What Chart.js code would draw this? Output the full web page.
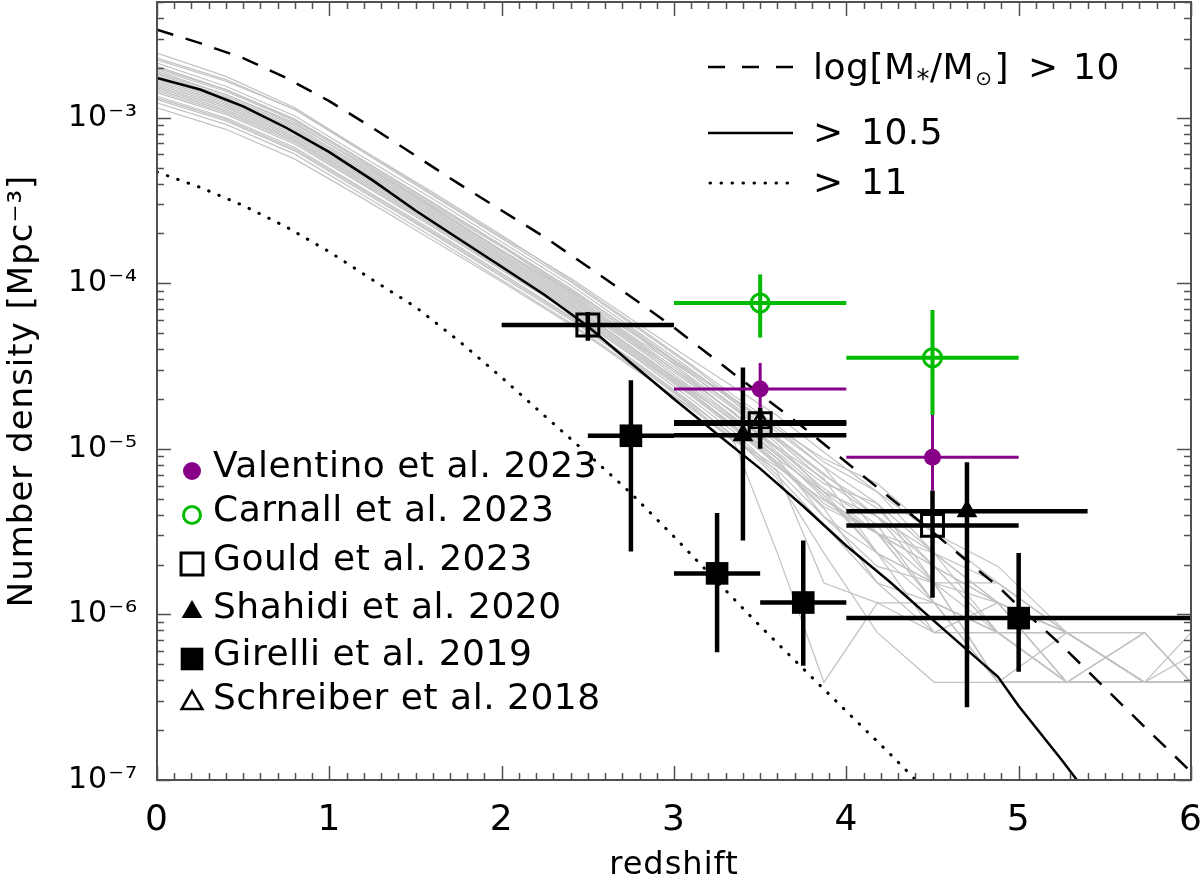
<!DOCTYPE html>
<html>
<head>
<meta charset="utf-8">
<script src="https://cdn.jsdelivr.net/npm/chart.js@4.4.0/dist/chart.umd.min.js"></script>
<style>
  html, body { margin: 0; padding: 0; background: #fff; }
  canvas { display: block; }
</style>
</head>
<body>
<canvas id="nd" width="1200" height="881"></canvas>
<script>
// mass-limited number density vs redshift
const curveZ = [0, 0.25, 0.5, 0.75, 1.0, 1.25, 1.5, 1.75, 2.0, 2.25, 2.5, 2.75, 3.0,
  3.25, 3.5, 3.75, 4.0, 4.25, 4.5, 4.75, 4.88, 5.0, 5.25, 5.5, 5.75, 6.0];
const nAbove10 = [3.4e-3, 2.82e-3, 2.29e-3, 1.74e-3, 1.26e-3, 8.7e-4, 5.9e-4, 4.0e-4, 2.75e-4,
  1.9e-4, 1.26e-4, 8.3e-5, 5.4e-5, 3.4e-5, 2.14e-5, 1.35e-5, 8.3e-6, 5.1e-6, 3.16e-6,
  1.9e-6, 1.48e-6, 1.12e-6, 6.5e-7, 3.6e-7, 2.0e-7, 1.12e-7];
const nAbove105 = [1.74e-3, 1.48e-3, 1.17e-3, 8.7e-4, 6.2e-4, 4.2e-4, 2.75e-4, 1.86e-4, 1.26e-4,
  8.5e-5, 5.5e-5, 3.3e-5, 2.0e-5, 1.23e-5, 7.6e-6, 4.5e-6, 2.6e-6, 1.58e-6, 9.3e-7,
  5.5e-7, 4.2e-7, 2.8e-7, 1.32e-7, 6.0e-8, 2.75e-8, 1.26e-8];
const nAbove11 = [4.7e-4, 3.8e-4, 2.95e-4, 2.19e-4, 1.55e-4, 1.05e-4, 7.2e-5, 4.5e-5, 2.7e-5,
  1.58e-5, 9.3e-6, 5.4e-6, 2.95e-6, 1.58e-6, 8.5e-7, 4.7e-7, 2.6e-7, 1.45e-7, 7.9e-8,
  4.4e-8, 3.2e-8, 2.4e-8, 1.3e-8, 7e-9, 4e-9, 2e-9];

// individual realisations (log10 of number density)
const greyZ = [0, 0.4, 0.8, 1.2, 1.6, 2.0, 2.4, 2.8, 3.1, 3.35, 3.6, 3.87, 4.18, 4.51, 4.88, 5.28, 5.73, 6.0];
const greyLogN = [
  [-2.61,-2.75,-2.94,-3.20,-3.46,-3.72,-3.97,-4.25,-4.46,-4.63,-4.80,-5.02,-5.26,-5.51,-5.81,-6.11,-6.11,-6.41],
  [-2.64,-2.77,-2.95,-3.20,-3.45,-3.71,-3.98,-4.27,-4.49,-4.68,-4.86,-5.08,-5.26,-5.63,-5.81,-6.11,-6.41,-6.41],
  [-2.65,-2.78,-2.95,-3.21,-3.47,-3.73,-3.99,-4.28,-4.50,-4.70,-4.88,-5.11,-5.33,-5.63,-5.93,-6.11,-6.41,-6.41],
  [-2.67,-2.81,-2.99,-3.24,-3.49,-3.75,-4.01,-4.30,-4.52,-4.72,-4.93,-5.15,-5.41,-5.81,-5.93,-6.41,-6.41,-6.41],
  [-2.69,-2.83,-3.01,-3.26,-3.51,-3.77,-4.04,-4.31,-4.54,-4.71,-4.90,-5.11,-5.51,-5.63,-6.11,-6.11,-6.41,-6.41],
  [-2.70,-2.83,-3.01,-3.26,-3.52,-3.77,-4.03,-4.32,-4.55,-4.74,-4.94,-5.16,-5.36,-5.71,-5.93,-6.41,-6.41,-6.41],
  [-2.71,-2.84,-3.02,-3.27,-3.53,-3.78,-4.05,-4.33,-4.57,-4.76,-4.95,-5.19,-5.41,-5.71,-6.11,-6.41,-6.11,-6.41],
  [-2.72,-2.86,-3.04,-3.28,-3.54,-3.80,-4.06,-4.35,-4.55,-4.75,-4.97,-5.26,-5.51,-5.81,-5.81,-6.11,-6.41,-6.25],
  [-2.73,-2.86,-3.03,-3.29,-3.54,-3.80,-4.05,-4.33,-4.53,-4.70,-4.88,-5.06,-5.21,-5.51,-5.71,-6.11,-6.11,-6.41],
  [-2.74,-2.87,-3.05,-3.30,-3.55,-3.81,-4.07,-4.36,-4.58,-4.79,-4.99,-5.18,-5.63,-5.93,-6.41,-6.41,-6.41,-6.41],
  [-2.75,-2.88,-3.06,-3.31,-3.56,-3.82,-4.08,-4.37,-4.60,-4.78,-5.02,-5.26,-5.41,-5.63,-5.93,-6.11,-6.41,-6.41],
  [-2.76,-2.89,-3.07,-3.32,-3.57,-3.83,-4.09,-4.38,-4.59,-4.79,-5.00,-5.24,-5.46,-5.93,-6.11,-6.11,-6.41,-6.41],
  [-2.77,-2.90,-3.08,-3.33,-3.58,-3.84,-4.10,-4.39,-4.61,-4.81,-5.00,-5.21,-5.33,-5.81,-6.41,-6.11,-6.41,-6.41],
  [-2.78,-2.91,-3.09,-3.34,-3.59,-3.85,-4.11,-4.40,-4.63,-4.82,-5.03,-5.30,-5.51,-5.71,-6.11,-6.41,-6.41,-6.41],
  [-2.79,-2.92,-3.10,-3.35,-3.60,-3.86,-4.12,-4.42,-4.64,-4.84,-5.06,-5.26,-5.63,-6.11,-5.93,-6.41,-6.41,-6.41],
  [-2.80,-2.93,-3.11,-3.36,-3.61,-3.87,-4.13,-4.42,-4.65,-4.83,-5.04,-5.28,-5.63,-5.81,-6.41,-6.41,-6.41,-6.41],
  [-2.81,-2.94,-3.12,-3.37,-3.62,-3.88,-4.14,-4.43,-4.66,-4.86,-5.08,-5.33,-5.51,-5.93,-6.11,-6.41,-6.11,-6.41],
  [-2.82,-2.95,-3.13,-3.38,-3.63,-3.89,-4.15,-4.44,-4.67,-4.86,-5.06,-5.41,-5.71,-5.81,-6.41,-6.41,-6.41,-6.41],
  [-2.83,-2.96,-3.14,-3.39,-3.64,-3.90,-4.16,-4.45,-4.67,-4.87,-5.09,-5.35,-5.51,-5.93,-6.11,-6.41,-6.41,-6.11],
  [-2.84,-2.97,-3.15,-3.40,-3.65,-3.91,-4.17,-4.46,-4.68,-4.88,-5.10,-5.36,-5.81,-6.11,-6.11,-6.11,-6.41,-6.41],
  [-2.85,-2.98,-3.16,-3.41,-3.66,-3.92,-4.18,-4.47,-4.70,-4.90,-5.14,-5.81,-5.93,-5.93,-6.41,-6.41,-6.41,-6.41],
  [-2.87,-3.00,-3.18,-3.43,-3.68,-3.94,-4.20,-4.49,-4.72,-4.93,-5.18,-5.63,-6.11,-6.41,-6.41,-6.41,-6.41,-6.41],
  [-2.88,-3.01,-3.19,-3.44,-3.69,-3.95,-4.21,-4.50,-4.73,-4.92,-5.16,-5.46,-5.81,-5.93,-6.41,-6.41,-6.41,-6.41],
  [-2.89,-3.02,-3.20,-3.45,-3.70,-3.96,-4.22,-4.51,-4.74,-4.96,-5.63,-6.41,-5.93,-6.11,-6.11,-6.41,-6.41,-6.41],
  [-2.91,-3.04,-3.22,-3.47,-3.72,-3.98,-4.24,-4.53,-4.76,-4.95,-5.13,-5.41,-5.63,-5.81,-6.11,-6.41,-6.41,-6.41],
  [-2.94,-3.07,-3.25,-3.49,-3.74,-3.99,-4.25,-4.54,-4.75,-4.94,-5.11,-5.31,-5.51,-5.71,-5.93,-6.11,-6.41,-6.41]
];

// observations: redshift, density, redshift range, density range
const valentinoZ = [3.5, 4.5];
const valentinoN = [2.3e-5, 8.9e-6];
const valentinoZr = [[3.0, 4.0], [4.0, 5.0]];
const valentinoNr = [[1.78e-5, 3.3e-5], [5.6e-6, 1.6e-5]];

const carnallZ = [3.5, 4.5];
const carnallN = [7.6e-5, 3.55e-5];
const carnallZr = [[3.0, 4.0], [4.0, 5.0]];
const carnallNr = [[4.7e-5, 1.13e-4], [1.6e-5, 6.9e-5]];

const gouldZ = [2.5, 3.5, 4.5];
const gouldN = [5.6e-5, 1.42e-5, 3.45e-6];
const gouldZr = [[2.0, 3.0], [3.0, 4.0], [4.0, 5.0]];
const gouldNr = [[4.5e-5, 6.7e-5], [1.0e-5, 1.78e-5], [1.26e-6, 5.6e-6]];

const shahidiZ = [3.4, 4.7];
const shahidiN = [1.21e-5, 4.2e-6];
const shahidiZr = [[3.0, 4.0], [4.0, 5.4]];
const shahidiNr = [[2.8e-6, 3.1e-5], [2.75e-7, 8.3e-6]];

const girelliZ = [2.75, 3.25, 3.75, 5.0];
const girelliN = [1.2e-5, 1.77e-6, 1.18e-6, 9.5e-7];
const girelliZr = [[2.5, 3.0], [3.0, 3.5], [3.5, 4.0], [4.0, 6.0]];
const girelliNr = [[2.4e-6, 2.6e-5], [5.9e-7, 4.1e-6], [4.9e-7, 2.8e-6], [4.5e-7, 2.35e-6]];

const schreiberZ = [3.5];
const schreiberN = [1.45e-5];
const schreiberZr = [[3.0, 4.0]];
const schreiberNr = [[1.25e-5, 1.7e-5]];

const xTickLabels = ['0', '1', '2', '3', '4', '5', '6'];
const yTickValues = [1e-7, 1e-6, 1e-5, 1e-4, 1e-3];
const yTickLabels = ['10⁻⁷', '10⁻⁶', '10⁻⁵', '10⁻⁴', '10⁻³'];

const PURPLE = '#880088';
const GREEN = '#00bb00';
const FONT = 'DejaVu Sans';

function pts(zs, ns) {
    return zs.map((z, i) => ({ x: z, y: ns[i] }));
}

const datasets = [];

// points on top (order 1), curves (2), realisations (3)
function pointSet(label, zs, ns, zr, nr, style, errColor, errWidth) {
    return Object.assign({
        label: label,
        data: pts(zs, ns),
        showLine: false,
        order: 1,
        errZ: zr,
        errN: nr,
        errColor: errColor,
        errWidth: errWidth
    }, style);
}

datasets.push(pointSet('Valentino et al. 2023', valentinoZ, valentinoN, valentinoZr, valentinoNr,
    { pointStyle: 'circle', pointRadius: 8.5, backgroundColor: PURPLE, borderWidth: 0 }, PURPLE, 3));
datasets.push(pointSet('Carnall et al. 2023', carnallZ, carnallN, carnallZr, carnallNr,
    { pointStyle: 'circle', pointRadius: 9, backgroundColor: 'rgba(0,0,0,0)', borderColor: GREEN, borderWidth: 3 }, GREEN, 4));
datasets.push(pointSet('Gould et al. 2023', gouldZ, gouldN, gouldZr, gouldNr,
    { pointStyle: 'rect', pointRadius: 15.5, backgroundColor: 'rgba(0,0,0,0)', borderColor: '#000', borderWidth: 3 }, '#000', 4.5));
datasets.push(pointSet('Shahidi et al. 2020', shahidiZ, shahidiN, shahidiZr, shahidiNr,
    { pointStyle: 'triangle', pointRadius: 12, backgroundColor: '#000', borderColor: '#000', borderWidth: 0 }, '#000', 4.5));
datasets.push(pointSet('Girelli et al. 2019', girelliZ, girelliN, girelliZr, girelliNr,
    { pointStyle: 'rect', pointRadius: 16, backgroundColor: '#000', borderWidth: 0 }, '#000', 4.5));
datasets.push(pointSet('Schreiber et al. 2018', schreiberZ, schreiberN, schreiberZr, schreiberNr,
    { pointStyle: 'triangle', pointRadius: 11, backgroundColor: 'rgba(0,0,0,0)', borderColor: '#000', borderWidth: 2.5 }, '#000', 4.5));

datasets.push({ label: '> 10', data: pts(curveZ, nAbove10), showLine: true, pointRadius: 0,
    borderColor: '#000', borderWidth: 2.5, borderDash: [17, 13], order: 2 });
datasets.push({ label: '> 10.5', data: pts(curveZ, nAbove105), showLine: true, pointRadius: 0,
    borderColor: '#000', borderWidth: 2.5, order: 2 });
datasets.push({ label: '> 11', data: pts(curveZ, nAbove11), showLine: true, pointRadius: 0,
    borderColor: '#000', borderWidth: 3, borderDash: [0.5, 10.5], borderCapStyle: 'round', order: 2 });

greyLogN.forEach((row, k) => {
    datasets.push({
        label: 'run ' + k,
        data: greyZ.map((z, i) => ({ x: z, y: Math.pow(10, row[i]) })),
        showLine: true, pointRadius: 0,
        borderColor: '#c2c2c2', borderWidth: 1.2, order: 3
    });
});

// wider glyph spacing, closer to the original plotting font
const spacing = {
    id: 'spacing',
    beforeDraw(chart) { chart.ctx.letterSpacing = '1px'; }
};

// error bars, drawn just before the first marker set
const errorBars = {
    id: 'errorBars',
    beforeDatasetsDraw(chart) { chart.$errDone = false; },
    beforeDatasetDraw(chart, args) {
        const ds = chart.data.datasets[args.index];
        if (!ds.errZ || chart.$errDone) return;
        chart.$errDone = true;
        const { ctx, chartArea: a, scales: { x, y } } = chart;
        ctx.save();
        ctx.beginPath();
        ctx.rect(a.left, a.top, a.width, a.height);
        ctx.clip();
        ctx.lineCap = 'butt';
        const order = [4, 3, 2, 5, 1, 0];
        order.forEach(idx => {
            const d = chart.data.datasets[idx];
            ctx.strokeStyle = d.errColor;
            ctx.lineWidth = d.errWidth;
            d.data.forEach((p, i) => {
                const px = x.getPixelForValue(p.x), py = y.getPixelForValue(p.y);
                ctx.beginPath();
                ctx.moveTo(x.getPixelForValue(d.errZ[i][0]), py);
                ctx.lineTo(x.getPixelForValue(d.errZ[i][1]), py);
                ctx.moveTo(px, y.getPixelForValue(d.errN[i][0]));
                ctx.lineTo(px, y.getPixelForValue(d.errN[i][1]));
                ctx.stroke();
            });
        });
        ctx.restore();
    }
};

// IDL-style frame with inward ticks on all four sides
const frameTicks = {
    id: 'frameTicks',
    afterDatasetsDraw(chart) {
        const { ctx, chartArea: a, scales: { x, y } } = chart;
        ctx.save();
        ctx.strokeStyle = '#505050';
        ctx.lineWidth = 1.5;
        ctx.beginPath();
        for (let i = 0; i <= 60; i++) {
            const px = Math.round(x.getPixelForValue(i / 10)) + 0.5;
            const len = i % 10 === 0 ? 14 : 7;
            ctx.moveTo(px, a.bottom); ctx.lineTo(px, a.bottom - len);
            ctx.moveTo(px, a.top); ctx.lineTo(px, a.top + len);
        }
        for (let e = -7; e <= -3; e++) {
            for (let m = 1; m <= 9; m++) {
                const v = m * Math.pow(10, e);
                if (v > y.max) break;
                const py = Math.round(y.getPixelForValue(v)) + 0.5;
                const len = m === 1 ? 14 : 7;
                ctx.moveTo(a.left, py); ctx.lineTo(a.left + len, py);
                ctx.moveTo(a.right, py); ctx.lineTo(a.right - len, py);
            }
        }
        ctx.stroke();
        ctx.lineWidth = 2;
        ctx.strokeRect(a.left, a.top, a.width, a.height);
        ctx.restore();
    }
};

// the two in-plot legends
const legends = {
    id: 'legends',
    afterDraw(chart) {
        const ctx = chart.ctx;
        ctx.save();
        ctx.fillStyle = '#000';
        ctx.textBaseline = 'alphabetic';
        ctx.letterSpacing = '0.5px';

        // mass cuts, top right
        const sx0 = 708, sx1 = 793;
        const rowsY = [67, 133, 183];
        const dashes = [[17, 17], [], [0.5, 10.5]];
        ctx.strokeStyle = '#000';
        rowsY.forEach((ry, i) => {
            ctx.setLineDash(dashes[i]);
            ctx.lineWidth = i === 2 ? 3 : 2.5;
            ctx.lineCap = i === 2 ? 'round' : 'butt';
            ctx.beginPath();
            ctx.moveTo(i === 2 ? sx0 + 2 : sx0, ry); ctx.lineTo(sx1, ry);
            ctx.stroke();
        });
        ctx.setLineDash([]);
        ctx.lineCap = 'butt';

        const big = '36px "' + FONT + '"';
        let tx = 813;
        const base0 = 79;
        ctx.font = big;
        ctx.fillText('log[M', tx, base0); tx += ctx.measureText('log[M').width + 1;
        ctx.font = '26px "' + FONT + '"';
        ctx.fillText('*', tx, base0 + 9); tx += ctx.measureText('*').width;
        ctx.font = big;
        ctx.fillText('/M', tx, base0); tx += ctx.measureText('/M').width + 1;
        ctx.font = '20px "' + FONT + '"';
        ctx.fillText('⊙', tx, base0 + 6); tx += ctx.measureText('⊙').width + 2;
        ctx.font = big;
        ctx.fillText(']', tx, base0);
        ctx.fillText('>', 1028, base0);
        ctx.fillText('10', 1073, base0);
        ctx.fillText('>', 813, 144);
        ctx.fillText('10.5', 861, 144);
        ctx.fillText('>', 813, 194);
        ctx.fillText('11', 861, 194);

        // data sources, bottom left
        const mx = 192, lx = 213;
        const ly = [471, 515, 564, 612, 659, 703];
        const legendStyles = [
            { pointStyle: 'circle', radius: 9, borderWidth: 0, fill: PURPLE, stroke: PURPLE },
            { pointStyle: 'circle', radius: 8.5, borderWidth: 3, fill: 'rgba(0,0,0,0)', stroke: GREEN },
            { pointStyle: 'rect', radius: 15.5, borderWidth: 3, fill: 'rgba(0,0,0,0)', stroke: '#000' },
            { pointStyle: 'triangle', radius: 12, borderWidth: 0, fill: '#000', stroke: '#000' },
            { pointStyle: 'rect', radius: 16, borderWidth: 0, fill: '#000', stroke: '#000' },
            { pointStyle: 'triangle', radius: 12, borderWidth: 2.5, fill: 'rgba(0,0,0,0)', stroke: '#000' }
        ];
        legendStyles.forEach((st, r) => {
            ctx.fillStyle = st.fill;
            ctx.strokeStyle = st.stroke;
            ctx.lineWidth = st.borderWidth;
            Chart.helpers.drawPoint(ctx, {
                pointStyle: st.pointStyle, radius: st.radius, rotation: 0, borderWidth: st.borderWidth
            }, mx, ly[r]);
            ctx.fillStyle = '#000';
            ctx.font = big;
            ctx.textBaseline = 'middle';
            ctx.fillText(chart.data.datasets[r].label, lx, ly[r] - 3);
            ctx.textBaseline = 'alphabetic';
        });
        ctx.restore();
    }
};

function noPadding(s) {
    s.paddingTop = 0;
    s.paddingBottom = 0;
    s.paddingLeft = 0;
    s.paddingRight = 0;
}

Chart.defaults.font.family = FONT;
Chart.defaults.color = '#000';

new Chart(document.getElementById('nd'), {
    type: 'scatter',
    data: { datasets: datasets },
    options: {
        responsive: false,
        animation: false,
        layout: { autoPadding: false, padding: { top: 2, right: 9, left: 0, bottom: 0 } },
        plugins: {
            legend: { display: false },
            tooltip: { enabled: false }
        },
        scales: {
            x: {
                type: 'linear',
                min: 0,
                max: 6,
                grid: { display: false },
                border: { display: false },
                ticks: {
                    stepSize: 1,
                    font: { size: 36 },
                    padding: 11,
                    maxRotation: 0,
                    callback: (v, i) => xTickLabels[i]
                },
                title: {
                    display: true,
                    text: 'redshift',
                    font: { size: 32 },
                    padding: { top: 0, bottom: -4 }
                },
                afterFit: s => { s.height = 101; noPadding(s); }
            },
            y: {
                type: 'logarithmic',
                min: 1e-7,
                max: 5e-3,
                grid: { display: false },
                border: { display: false },
                afterBuildTicks: s => { s.ticks = yTickValues.map(v => ({ value: v })); },
                ticks: {
                    font: { size: 30 },
                    padding: 11,
                    callback: (v, i) => yTickLabels[i]
                },
                title: {
                    display: true,
                    text: 'Number density [Mpc⁻³]',
                    font: { size: 34 },
                    padding: { top: 3, bottom: 0 }
                },
                afterFit: s => { s.width = 157; noPadding(s); }
            }
        }
    },
    plugins: [spacing, errorBars, frameTicks, legends]
});
</script>
</body>
</html>
